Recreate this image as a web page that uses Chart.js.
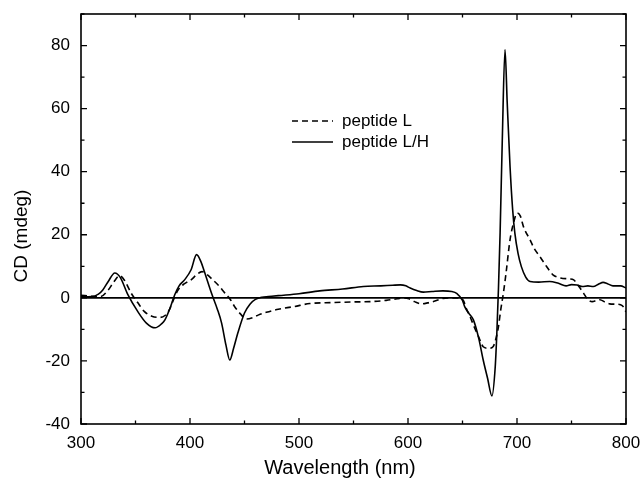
<!DOCTYPE html>
<html>
<head>
<meta charset="utf-8">
<script src="https://cdn.jsdelivr.net/npm/chart.js@4.4.1/dist/chart.umd.min.js"></script>
<style>
  html, body { margin: 0; padding: 0; background: #fff; }
  #wrap { width: 642px; height: 482px; }
</style>
</head>
<body>
<div id="wrap"><canvas id="cd" width="642" height="482"></canvas></div>
<script>
// peptide L/H (solid)
const lhWave = [300, 310, 316, 320, 325, 331, 336, 343, 352, 360, 368, 374, 377, 382, 386, 390, 395, 401, 406, 410,
  413, 420, 425, 429, 433, 436.5, 440, 444, 450, 455, 460, 466, 472, 481, 500, 519, 540, 559, 575, 586,
  593, 598, 602, 608, 614, 622, 632, 640, 645, 650, 652, 656, 660, 665, 669, 673, 677, 680, 681.5, 683,
  684.5, 686.5, 689, 691, 693.6, 696, 698, 701, 704, 708, 712, 720, 730, 738, 745, 750, 755, 760, 765, 770,
  775, 779, 783, 788, 795, 800];
const lhCD = [0.3, 0.4, 1.2, 2.5, 5.2, 7.9, 6.5, 1.0, -4.3, -8.0, -9.5, -8.2, -7.0, -3.0, 1.0, 3.8, 5.7, 8.9, 13.7, 11.5,
  8.5, 1.2, -3.5, -8.0, -15.0, -19.7, -16.0, -11.0, -4.8, -2.0, -0.5, 0.2, 0.4, 0.7, 1.3, 2.2, 2.8, 3.6, 3.8, 4.0,
  4.1, 3.8, 3.1, 2.3, 1.8, 2.0, 2.2, 2.0, 1.3, -0.8, -2.8, -5.0, -7.0, -13.0, -19.7, -25.5, -31.1, -22.0, -11.2, 3.0,
  20.6, 50.0, 78.7, 62.0, 41.7, 28.0, 20.6, 14.0, 9.9, 6.6, 5.2, 5.0, 5.2, 4.6, 3.8, 4.2, 4.1, 3.6, 3.8, 3.6,
  4.4, 4.9, 4.5, 3.8, 3.8, 3.1];

// peptide L (dashed)
const lWave = [300, 310, 318, 325, 330, 335.5, 340, 346, 352, 358, 365, 372, 377, 381, 385, 389, 395, 401, 406, 411,
  416, 420, 426, 432, 437, 441, 446, 452, 458, 463, 470, 481, 495, 510, 530, 550, 565, 580, 590, 596,
  601, 606, 612, 618, 624, 632, 640, 648, 651, 654, 657, 660, 665, 669, 674, 678, 681, 683, 685, 687.5,
  690, 693.6, 697, 700, 703, 706, 712, 716, 721, 727, 733, 740, 748, 752, 757, 761, 765, 769, 773, 776,
  781, 785, 790, 795, 798, 800];
const lCD = [0.8, 0.5, 0.4, 2.5, 5.0, 7.0, 5.5, 1.5, -1.5, -4.3, -5.8, -6.2, -5.6, -3.8, -0.5, 2.5, 4.5, 5.7, 7.3, 8.3,
  7.3, 6.0, 4.0, 1.5, -0.5, -2.8, -5.0, -6.7, -6.2, -5.4, -4.6, -3.6, -2.8, -1.8, -1.5, -1.3, -1.2, -0.8, -0.3, 0.0,
  -0.3, -1.2, -1.9, -1.6, -1.1, -0.2, 0.0, 0.0, -1.0, -3.8, -6.0, -8.6, -12.5, -15.5, -16.0, -15.5, -12.5, -9.1, -4.0, 1.5,
  8.0, 18.4, 24.0, 26.9, 26.0, 22.5, 18.4, 15.5, 13.1, 10.0, 7.3, 6.3, 6.0, 5.7, 3.5, 1.5, -0.5, -1.2, -0.8, -0.6,
  -1.4, -1.9, -2.0, -2.2, -3.0, -4.5];

const xTicks = [300, 400, 500, 600, 700, 800];
const yTicks = [-40, -20, 0, 20, 40, 60, 80];
const baseline = [300, 800];

const FONT = "'Liberation Sans', Arial, sans-serif";

function toPoints(xs, ys) {
    return xs.map((x, i) => ({ x, y: ys[i] }));
}

// frame, inward major/minor ticks on all four sides, axis titles, legend
const decorPlugin = {
    id: "decor",
    afterDraw(chart) {
        const { ctx, chartArea } = chart;
        const { left, right, top, bottom } = chartArea;
        const xs = chart.scales.x;
        const ys = chart.scales.y;
        ctx.save();
        ctx.strokeStyle = "#000";
        ctx.lineWidth = 1.6;
        ctx.strokeRect(left, top, right - left, bottom - top);

        ctx.lineWidth = 1.3;
        ctx.beginPath();
        for (let v = 300; v <= 800; v += 50) {
            const px = xs.getPixelForValue(v);
            const len = v % 100 === 0 ? 6 : 3.5;
            ctx.moveTo(px, bottom); ctx.lineTo(px, bottom - len);
            ctx.moveTo(px, top); ctx.lineTo(px, top + len);
        }
        for (let v = -40; v <= 90; v += 10) {
            const py = ys.getPixelForValue(v);
            const len = v % 20 === 0 ? 6 : 3.5;
            ctx.moveTo(left, py); ctx.lineTo(left + len, py);
            ctx.moveTo(right, py); ctx.lineTo(right - len, py);
        }
        ctx.stroke();

        // axis titles
        ctx.fillStyle = "#000";
        ctx.textAlign = "center";
        ctx.textBaseline = "middle";
        ctx.font = "20px " + FONT;
        ctx.fillText("Wavelength (nm)", 340, 468);
        ctx.save();
        ctx.translate(22, 236);
        ctx.rotate(-Math.PI / 2);
        ctx.font = "19px " + FONT;
        ctx.fillText("CD (mdeg)", 0, 0);
        ctx.restore();

        // legend
        ctx.font = "17px " + FONT;
        ctx.textAlign = "left";
        const rows = [121, 142];
        chart.data.datasets.slice(0, 2).forEach((ds, i) => {
            const y = rows[i];
            ctx.lineWidth = 1.5;
            ctx.setLineDash(ds.borderDash || []);
            ctx.beginPath();
            ctx.moveTo(292, y);
            ctx.lineTo(333, y);
            ctx.stroke();
            ctx.setLineDash([]);
            ctx.fillText(ds.label, 342, y);
        });
        ctx.restore();
    },
};

new Chart(document.getElementById("cd").getContext("2d"), {
    type: "line",
    data: {
        datasets: [
            {
                label: "peptide L",
                data: toPoints(lWave, lCD),
                borderColor: "#000",
                borderWidth: 1.6,
                borderDash: [6, 4],
                pointRadius: 0,
                cubicInterpolationMode: "monotone",
            },
            {
                label: "peptide L/H",
                data: toPoints(lhWave, lhCD),
                borderColor: "#000",
                borderWidth: 1.6,
                pointRadius: 0,
                cubicInterpolationMode: "monotone",
            },
            {
                label: "",
                data: toPoints(baseline, [0, 0]),
                borderColor: "#000",
                borderWidth: 1.6,
                pointRadius: 0,
            },
        ],
    },
    options: {
        responsive: false,
        animation: false,
        layout: { padding: { top: 14, right: 16, left: 0, bottom: 0 } },
        plugins: {
            legend: { display: false },
            tooltip: { enabled: false },
        },
        scales: {
            x: {
                type: "linear",
                min: 300,
                max: 800,
                afterFit: (s) => {
                    s.height = 58;
                    s.paddingLeft = 0;
                    s.paddingRight = 0;
                },
                afterBuildTicks: (s) => { s.ticks = xTicks.map((value) => ({ value })); },
                grid: { display: false },
                border: { display: false },
                ticks: { color: "#000", padding: 1, maxRotation: 0, font: { family: FONT, size: 17 } },
            },
            y: {
                min: -40,
                max: 90,
                afterFit: (s) => {
                    s.width = 81;
                    s.paddingTop = 0;
                    s.paddingBottom = 0;
                },
                afterBuildTicks: (s) => { s.ticks = yTicks.map((value) => ({ value })); },
                grid: { display: false },
                border: { display: false },
                ticks: { color: "#000", padding: 3, font: { family: FONT, size: 17 } },
            },
        },
    },
    plugins: [decorPlugin],
});
</script>
</body>
</html>
